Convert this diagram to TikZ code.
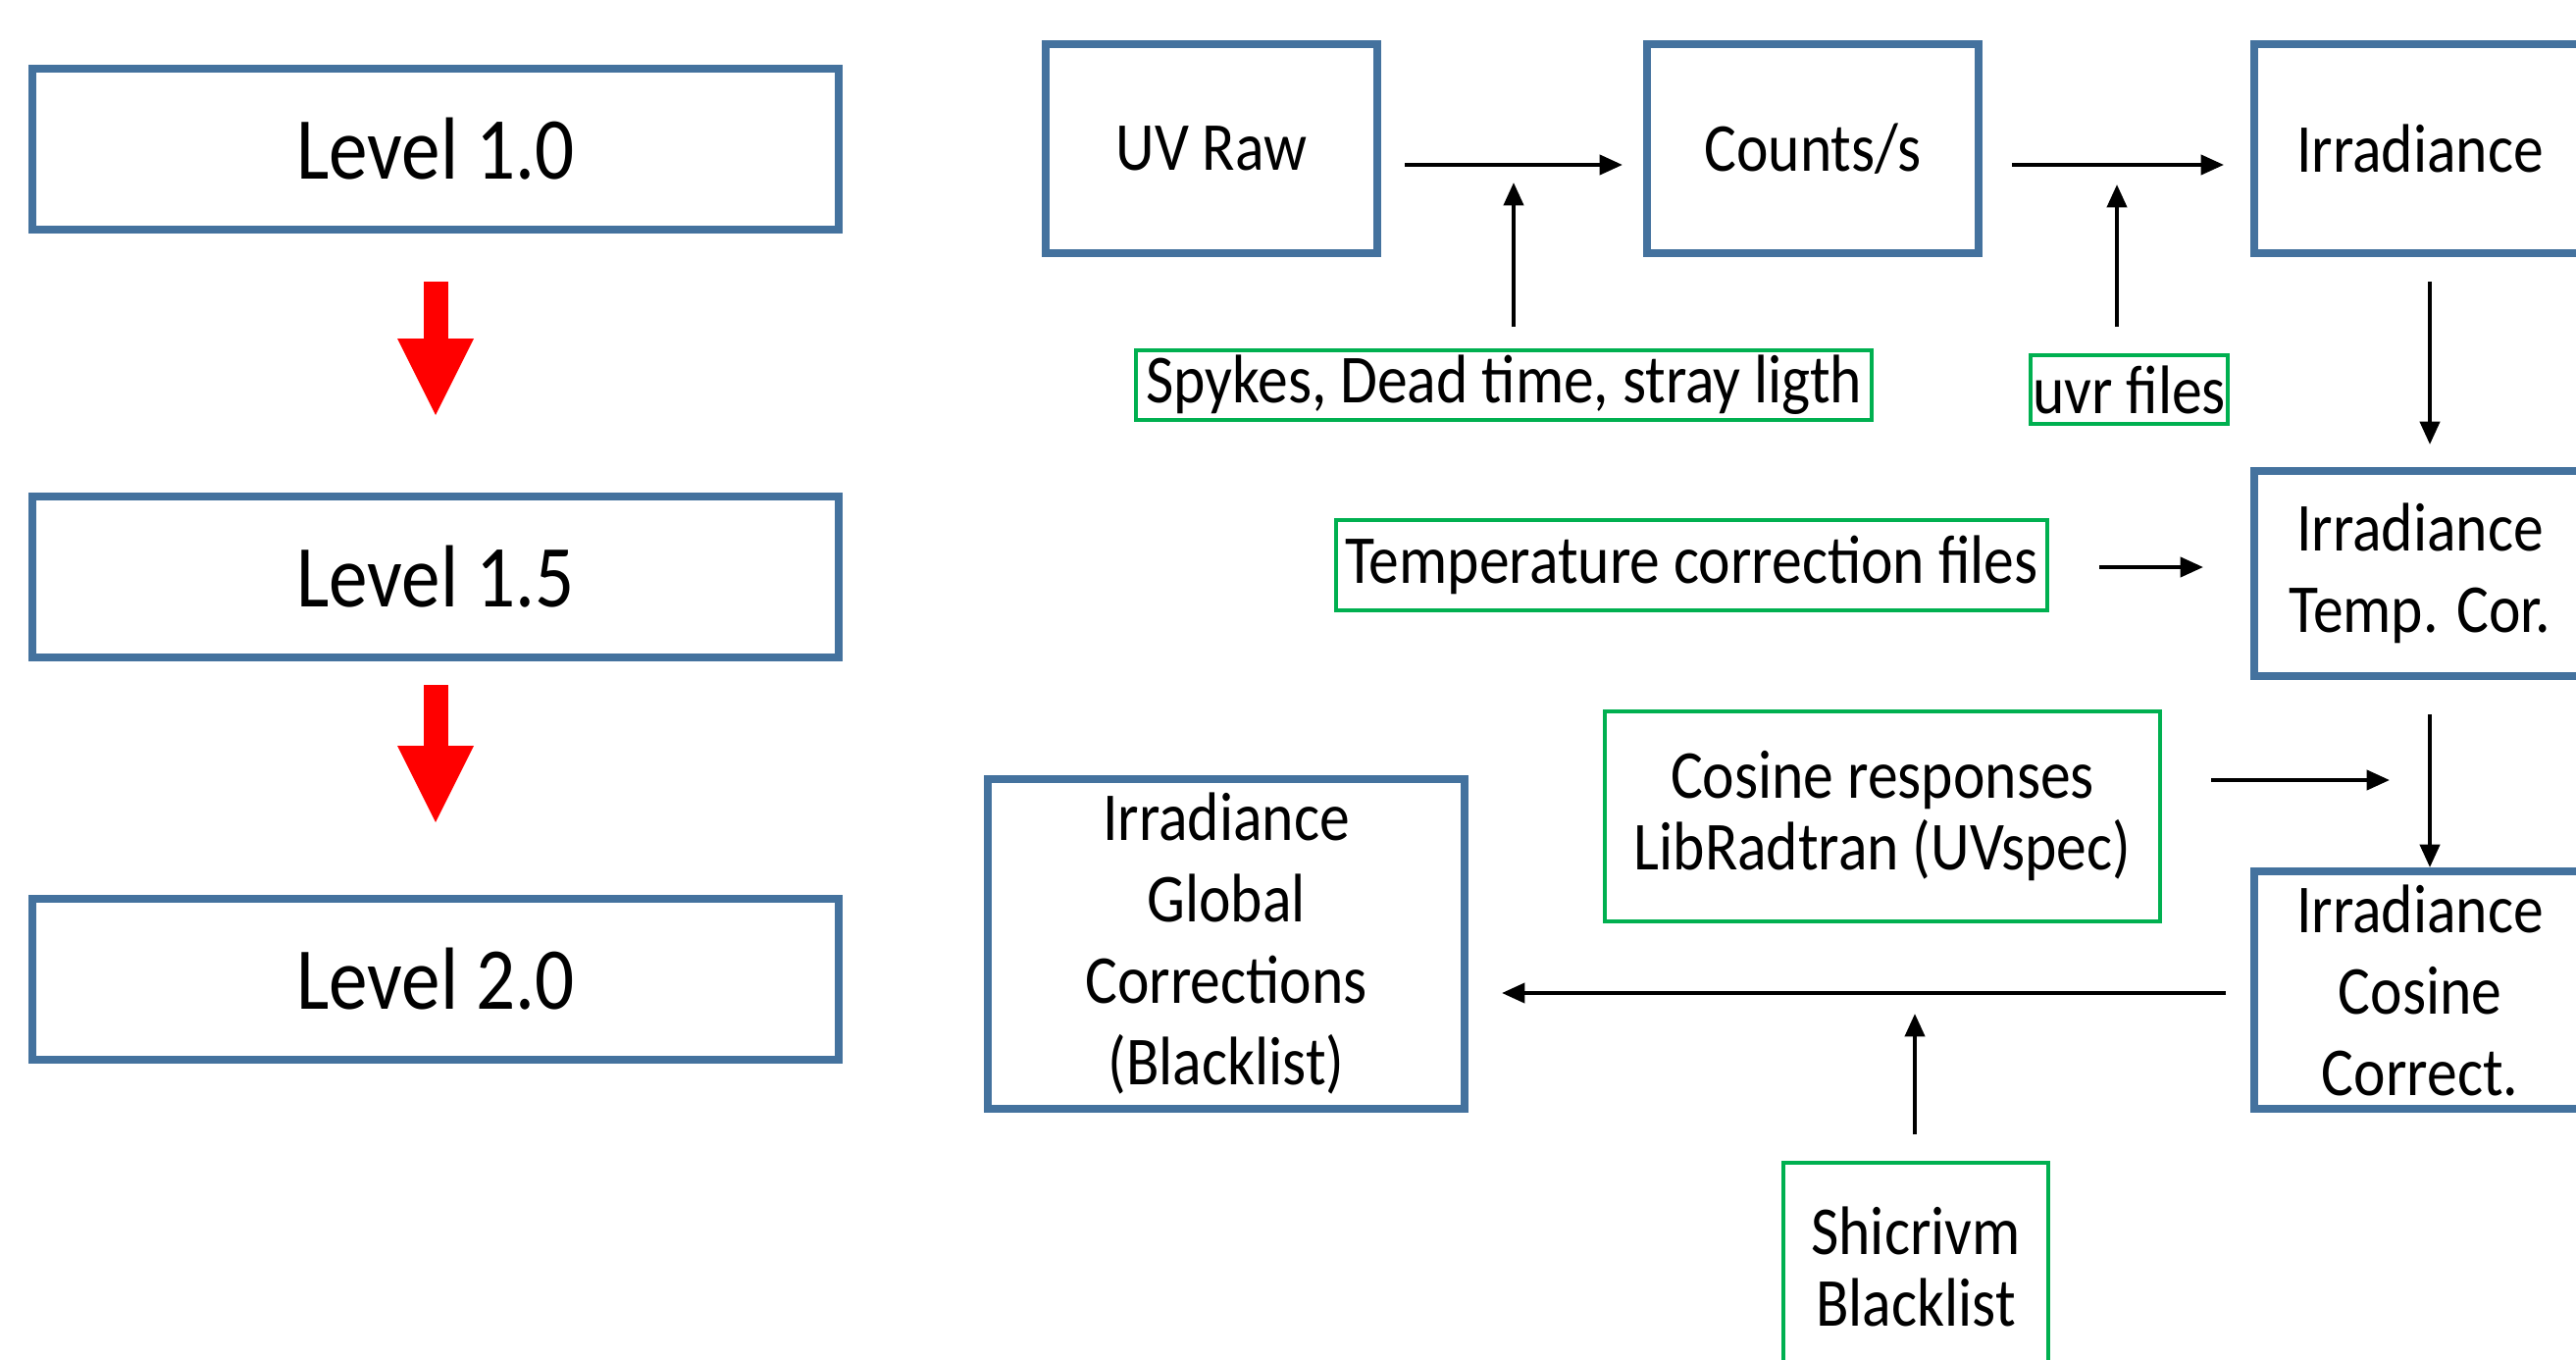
\documentclass[tikz,border=0pt]{standalone}
\usepackage{fontspec}
\setmainfont{Carlito}[FakeStretch=0.88]
\usetikzlibrary{arrows.meta,calc}
\definecolor{boxblue}{RGB}{68,114,158}
\definecolor{srcgreen}{RGB}{0,176,80}
\tikzset{every picture/.style={line width=1.2pt}}
\tikzset{
  lvlbox/.style={draw=boxblue,line width=2.4pt,minimum width=246.6pt,minimum height=49pt,inner sep=0pt,font=\fontsize{27}{32}\selectfont},
  stagebox/.style={draw=boxblue,line width=2.4pt,minimum width=101.4pt,inner sep=0pt,align=center,font=\fontsize{21}{24.9}\selectfont},
  srcbox/.style={draw=srcgreen,line width=1.2pt,inner sep=0pt,align=center,font=\fontsize{21}{21.9}\selectfont},
  flow/.style={line width=1.2pt,-{Triangle[length=7pt,width=6pt]}},
  bigdown/.style={red,line width=7.5pt,-{Triangle[length=23.4pt,width=23.4pt,line width=0pt]}}
}

\begin{document}
\begin{tikzpicture}[x=0.3pt,y=0.3pt,yscale=-1,xscale=1]
	\useasboundingbox (0,0) rectangle (2626,1385);
	\clip (0,0) rectangle (2626,1385);

	%Shape: Rectangle [levels]
	\node[lvlbox] (lvlA) at (444,152) {Level 1.0};
	\node[lvlbox] (lvlB) at (444,588) {Level 1.5};
	\node[lvlbox] (lvlC) at (444,998) {Level 2.0};
	%Straight Lines [red arrows]
	\draw[bigdown,shorten <=14.9pt,shorten >=23.8pt] (lvlA) -- (lvlB);
	\draw[bigdown,shorten <=7.3pt,shorten >=22.3pt] (lvlB) -- (lvlC);

	%Shape: Rectangle [products]
	\node[stagebox,minimum height=63.9pt] (raw) at (1235,151.5) {UV Raw};
	\node[stagebox,minimum height=63.9pt] (cnt) at (1848,151.5) {Counts/s};
	\node[stagebox,minimum height=63.9pt] (irr) at (2467,151.5) {Irradiance};
	\node[stagebox,minimum height=62.7pt] (irrT) at (2467,584.5) {Irradiance\\Temp. Cor.};
	\node[stagebox,minimum height=72.6pt] (irrC) at (2467,1009) {Irradiance\\Cosine\\Correct.};
	\node[stagebox,minimum width=145.8pt,minimum height=100.8pt] (irrG) at (1250,962) {Irradiance\\Global\\Corrections\\(Blacklist)};

	%Shape: Rectangle [inputs]
	\node[srcbox,minimum width=225pt,minimum height=21.3pt] (spk) at (1533,392.5) {Spykes, Dead time, stray ligth};
	\node[srcbox,minimum width=60.3pt,minimum height=21pt] (uvr) at (2170.5,397) {uvr files};
	\node[srcbox,minimum width=217.5pt,minimum height=27.6pt] (tmp) at (1724.5,576) {Temperature correction files};
	\node[srcbox,minimum width=169.8pt,minimum height=64.2pt] (cos) at (1919,832) {Cosine responses\\LibRadtran (UVspec)};
	\node[srcbox,minimum width=81pt,minimum height=63.6pt] (shc) at (1953,1291) {Shicrivm\\Blacklist};

	%Straight Lines
	\draw[flow] ($(raw.east)+(24,16.5)$) -- ($(cnt.west)+(-21,16.5)$);
	\draw[flow] ($(cnt.east)+(30,16.5)$) -- ($(irr.west)+(-27,16.5)$);
	\draw[flow] ($(spk.north)+(10,-22)$) -- ($(spk.north)+(10,-169)$);
	\draw[flow] ($(uvr.north)+(-12.5,-27)$) -- ($(uvr.north)+(-12.5,-172)$);
	\draw[flow] ($(irr.south)+(10,25)$) -- ($(irrT.north)+(10,-23)$);
	\draw[flow] ($(tmp.east)+(51,2)$) -- ($(irrT.west)+(-48,-6.5)$);
	\draw[flow] ($(irrT.south)+(10,35)$) -- ($(irrC.north)+(10,0)$);
	\draw[flow] ($(cos.east)+(50,-37)$) -- ++(182,0);
	\draw[flow] ($(irrC.west)+(-25,3)$) -- ($(irrG.east)+(34,50)$);
	\draw[flow] ($(shc.north)+(-1,-27)$) -- ($(shc.north)+(-1,-150)$);

\end{tikzpicture}
\end{document}
